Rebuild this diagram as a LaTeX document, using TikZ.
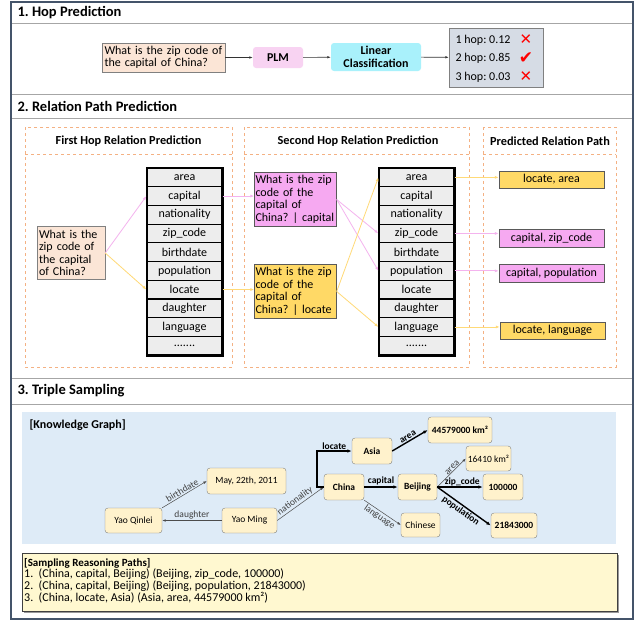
\documentclass[tikz,border=0pt]{standalone}
\usepackage{fontspec}
\setmainfont{Carlito}
\newfontfamily\symfont{DejaVu Sans}
\usetikzlibrary{arrows.meta}
\newcommand{\reldots}{.......}
\frenchspacing

\definecolor{frameblue}{HTML}{44546A}
\definecolor{qpeach}{HTML}{FBE5D6}
\definecolor{plmpink}{HTML}{F8D3F2}
\definecolor{lincyan}{HTML}{A9F1FB}
\definecolor{hopgray}{HTML}{D6DCE5}
\definecolor{dashorange}{HTML}{F4B183}
\definecolor{cellgray}{HTML}{EDEDED}
\definecolor{relpink}{HTML}{F6A9F1}
\definecolor{relyellow}{HTML}{FFD966}
\definecolor{pinkline}{HTML}{F4B3EE}
\definecolor{yellowline}{HTML}{FFDA77}
\definecolor{kgblue}{HTML}{DEEBF7}
\definecolor{kgnode}{HTML}{FFF2CC}
\definecolor{pathyellow}{HTML}{FFF8D0}

\begin{document}
\begin{tikzpicture}[x=1pt,y=-1pt,
  every node/.style={font=\fontsize{12}{12.5}\selectfont},
  sectitle/.style={anchor=west, font=\fontsize{14.5}{16}\selectfont\bfseries},
  subtitle/.style={font=\fontsize{12.3}{13}\selectfont\bfseries},
  qbox/.style={draw=gray, fill=qpeach, align=left, inner xsep=2pt, inner ysep=1pt},
  softbox/.style={rounded corners=3pt, inner sep=0pt, align=center, font=\fontsize{12}{13}\selectfont\bfseries},
  cell/.style={draw=black, line width=1.2pt, fill=cellgray, minimum width=75pt, minimum height=18.7pt, inner sep=0pt},
  relbox/.style={draw=gray!70!black, align=left, minimum height=54pt, text width=80pt, inner xsep=1pt, inner ysep=1pt},
  pathbox/.style={draw=gray!70!black, minimum height=17.5pt, minimum width=105pt, inner sep=0pt},
  dashbox/.style={dashorange, dashed, line width=0.8pt},
  arr/.style={-{Latex[length=3.5pt,width=2.5pt]}, gray!40!black, line width=0.6pt},
  pinkarr/.style={-{Latex[length=4pt,width=3pt]}, pinkline, line width=0.8pt},
  yelarr/.style={-{Latex[length=4pt,width=3pt]}, yellowline, line width=0.8pt},
  kg/.style={draw=gray, fill=kgnode, rounded corners=3pt, inner sep=0pt, font=\fontsize{9.5}{11}\selectfont},
  kgb/.style={kg, font=\fontsize{9.5}{11}\selectfont\bfseries},
  kgthin/.style={-{Latex[length=3.5pt,width=2.5pt]}, gray!60!black, line width=0.5pt},
  kgthick/.style={-{Latex[length=4.5pt,width=3.5pt]}, black, line width=1.4pt},
  lab/.style={inner sep=1pt, font=\fontsize{9.5}{11}\selectfont, text=gray!50!black},
  labb/.style={inner sep=1pt, font=\fontsize{9.5}{11}\selectfont\bfseries},
  hopmark/.style={text=red, font=\fontsize{15}{15}\symfont\bfseries}]
\useasboundingbox (0,0) rectangle (644,621);
\fill[white] (0,0) rectangle (644,621);
% frame and section rows
\draw[gray!70, line width=0.8pt] (11,23)--(633,23) (11,94)--(633,94) (11,118)--(633,118) (11,378)--(633,378) (11,404)--(633,404);
\draw[frameblue, line width=1.2pt] (11,2) rectangle (633,619);
\node[sectitle] (t1) at (14,12.5) {1. Hop Prediction};
\node[sectitle] (t2) at (14,106) {2. Relation Path Prediction};
\node[sectitle] (t3) at (14,391) {3. Triple Sampling};

% 1. hop prediction
\node[qbox, minimum width=123pt, minimum height=29pt, text width=118pt] (q) at (163.5,57.5) {What is the zip code of\\the capital of China?};
\node[softbox, fill=plmpink, minimum width=50pt, minimum height=21pt] (plm) at (278,57.5) {PLM};
\node[softbox, fill=lincyan, minimum width=90pt, minimum height=28pt] (lin) at (376,57) {Linear\\Classification};
\node[draw=gray, fill=hopgray, minimum width=94pt, minimum height=59pt] (hops) at (496,57.5) {};
\node[anchor=west] (h1) at (452,40) {1 hop: 0.12};
\node[anchor=west] (h2) at (452,58.5) {2 hop: 0.85};
\node[anchor=west] (h3) at (452,77) {3 hop: 0.03};
\node[hopmark] (m1) at (526,40) {✕};
\node[hopmark, font=\fontsize{17}{17}\symfont] (m2) at (526,58) {✔};
\node[hopmark] (m3) at (526,77) {✕};
\draw[arr] (q) -- (plm);
\draw[arr] (plm) -- (lin);
\draw[arr] (lin) -- (hops);

% 2. relation path prediction
\draw[dashbox] (25,127) rectangle (232,367) (25,154) -- (232,154);
\draw[dashbox] (244,127) rectangle (469,367) (244,154) -- (469,154);
\draw[dashbox] (483,127) rectangle (616,367) (483,154) -- (616,154);
\node[subtitle] (s1) at (128.5,141) {First Hop Relation Prediction};
\node[subtitle] (s2) at (358,141) {Second Hop Relation Prediction};
\node[subtitle] (s3) at (550,141) {Predicted Relation Path};

\foreach \rel [count=\i] in {area,capital,nationality,zip\_code,birthdate,population,locate,daughter,language,\reldots}{
  \node[cell] (fa\i) at (184.5,{158.65+18.7*\i}) {\rel};
  \node[cell] (sb\i) at (416.5,{158.65+18.7*\i}) {\rel};
}
\draw[line width=1.8pt] (fa1.north west) rectangle (fa10.south east);
\draw[line width=1.8pt] (sb1.north west) rectangle (sb10.south east);

\node[qbox, minimum height=53pt, text width=64pt] (q2) at (71,253) {What is the\\zip code of\\the capital\\of China?};
\node[relbox, fill=relpink] (sp) at (295.5,199.5) {What is the zip\\code of the\\capital of\\China? | capital};
\node[relbox, fill=relyellow] (sy) at (295.5,291.5) {What is the zip\\code of the\\capital of\\China? | locate};

\node[pathbox, fill=relyellow] (pa) at (551.5,179.5) {locate, area};
\node[pathbox, fill=relpink] (pz) at (551.5,238) {capital, zip\_code};
\node[pathbox, fill=relpink] (pp) at (551.5,273) {capital, population};
\node[pathbox, fill=relyellow] (pl) at (552.5,330.5) {locate, language};

\draw[pinkarr] (q2.east) -- (fa2.west);
\draw[yelarr] (q2.east) -- (fa7.west);
\draw[pinkarr] (fa2.east) -- (fa2.east -| sp.west);
\draw[yelarr] (fa7.east) -- (fa7.east -| sy.west);
\draw[pinkarr] (sp.east) -- (sb4.west);
\draw[pinkarr] (sp.east) -- (sb6.west);
\draw[yelarr] (sy.east) -- (sb1.west);
\draw[yelarr] (sy.east) -- (sb9.west);
\draw[yelarr] (sb1.east) -- (sb1.east -| pa.west);
\draw[pinkarr] (sb4.east) -- (sb4.east -| pz.west);
\draw[pinkarr] (sb6.east) -- (sb6.east -| pp.west);
\draw[yelarr] (sb9.east) -- (sb9.east -| pl.west);

% 3. triple sampling
\fill[kgblue] (22,412) rectangle (616,544);
\node[anchor=west, font=\fontsize{12}{13}\selectfont\bfseries] (kgt) at (26,425) {[Knowledge Graph]};
\node[kg, minimum width=57pt, minimum height=25pt] (yq) at (133.5,520.5) {Yao Qinlei};
\node[kg, minimum width=55pt, minimum height=25pt] (ym) at (249.5,520.5) {Yao Ming};
\node[kg, minimum width=79pt, minimum height=26pt] (may) at (246.5,481) {May, 22th, 2011};
\node[kgb, minimum width=40pt, minimum height=26pt] (china) at (344,487) {China};
\node[kgb, minimum width=40pt, minimum height=26pt] (asia) at (372,451) {Asia};
\node[kgb, minimum width=64pt, minimum height=26pt] (big) at (460,430) {44579000 km²};
\node[kg, minimum width=45pt, minimum height=25pt] (sm) at (488.5,458.5) {16410 km²};
\node[kgb, minimum width=39pt, minimum height=26pt] (bj) at (417.5,487) {Beijing};
\node[kgb, minimum width=40pt, minimum height=26pt] (zip) at (503,487) {100000};
\node[kg, minimum width=39pt, minimum height=24pt] (cn) at (420.5,525) {Chinese};
\node[kgb, minimum width=46pt, minimum height=25pt] (pop) at (514,525.5) {21843000};

\draw[kgthin] (ym) -- node[lab, above] {daughter} (yq);
\draw[kgthin] (yq.north east) -- node[lab, sloped, above] {birthdate} (may.west);
\draw[kgthin] (ym.east) -- node[lab, sloped, above, pos=0.45] {nationality} (china.west);
\draw[kgthick] (china.west) -- ++(-7,0) |- node[labb, pos=0.75, above] {locate} (asia.west);
\draw[kgthick] (asia.east) -- node[labb, sloped, above] {area} (big.west);
\draw[kgthick] (china.east) -- node[labb, above] {capital} (bj.west);
\draw[kgthin] (china.south east) -- node[lab, sloped, below] {language} (cn.west);
\draw[kgthin] (bj.east) -- node[lab, sloped, above, pos=0.6, inner sep=0.5pt] {area} (sm.west);
\draw[kgthick] (bj.east) -- node[labb, above, pos=0.55, inner sep=0.5pt] {zip\_code} (zip.west);
\draw[kgthick] (bj.east) -- node[labb, sloped, below] {population} (pop.west);

\fill[gray!80] (24,555) rectangle (619,613);
\draw[gray!50!black, fill=pathyellow, line width=0.6pt] (22,553) rectangle (617,611);
\node[anchor=north west, align=left, inner sep=0pt, font=\fontsize{12}{11.7}\selectfont] (paths) at (24,558) {{\fontsize{11}{11.7}\selectfont\bfseries [Sampling Reasoning Paths]}\\
1.\ \ (China, capital, Beijing) (Beijing, zip\_code, 100000)\\
2.\ \ (China, capital, Beijing) (Beijing, population, 21843000)\\
3.\ \ (China, locate, Asia) (Asia, area, 44579000 km²)};
\end{tikzpicture}
\end{document}
